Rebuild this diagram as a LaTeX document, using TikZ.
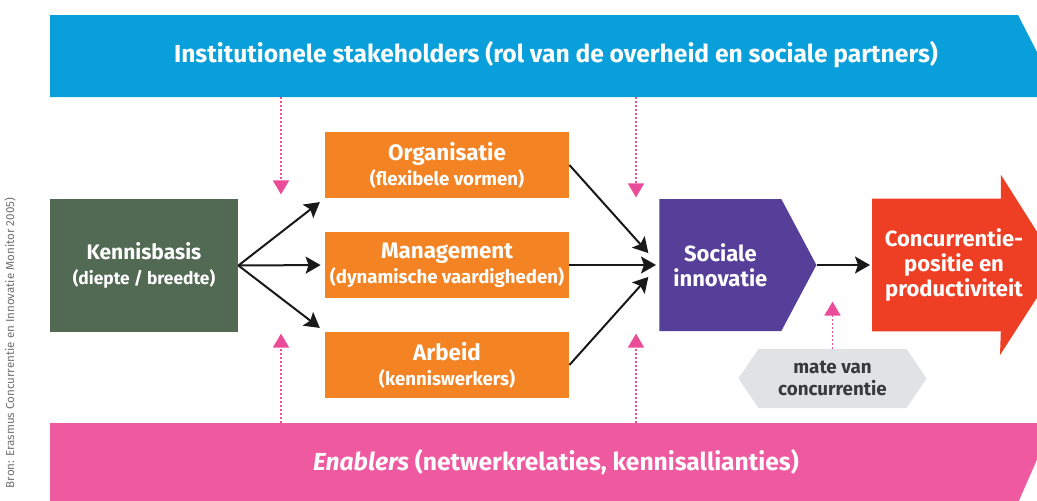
\documentclass[tikz,border=0pt]{standalone}
\usepackage{fontspec}
\setmainfont{Fira Sans}
\usetikzlibrary{arrows.meta,positioning,shapes.symbols}

\definecolor{instblue}{HTML}{089FDB}
\definecolor{enablepink}{HTML}{EE599F}
\definecolor{hintpink}{HTML}{EA4C9A}
\definecolor{basisgreen}{HTML}{526A54}
\definecolor{factororange}{HTML}{F38323}
\definecolor{socpurple}{HTML}{563F98}
\definecolor{comprred}{HTML}{EE3F24}
\definecolor{mategray}{HTML}{E1E2E3}
\definecolor{matetext}{HTML}{3A3A3A}
\definecolor{sourcegray}{HTML}{707070}

\newcommand{\factortitle}[1]{{\fontsize{11.2}{12.5}\selectfont #1}}

\begin{document}
\begin{tikzpicture}[
    x=0.5pt, y=-0.5pt,
    node distance=50pt,
    band/.style={text=white, font=\bfseries\fontsize{12.3}{14}\selectfont},
    factor/.style={rectangle, fill=factororange, text=white, minimum width=122pt, minimum height=33pt, inner sep=0pt, align=center, font=\bfseries\fontsize{9.3}{12.5}\selectfont},
    basis/.style={rectangle, fill=basisgreen, text=white, minimum width=94pt, minimum height=66.5pt, inner sep=0pt, align=center, font=\bfseries\fontsize{8.7}{12.5}\selectfont},
    social/.style={signal, signal to=east, signal pointer angle=124, fill=socpurple, text=white, minimum width=78.5pt, minimum height=66pt, inner sep=0pt, align=center, font=\bfseries\fontsize{11}{12.5}\selectfont},
    measure/.style={signal, signal to=west and east, signal pointer angle=112, fill=mategray, text=matetext, minimum width=94pt, minimum height=29.5pt, inner sep=0pt, align=center, font=\bfseries\fontsize{9.4}{11}\selectfont},
    arrow/.style={-{Stealth[length=7.5pt,width=8.5pt,inset=1.5pt]}, line width=1pt, draw=black!90},
    hint/.style={-{Triangle[length=7pt,width=8pt]}, draw=hintpink, line width=0.9pt, dash pattern=on 0.9pt off 1.1pt}
]
\useasboundingbox (0,0) rectangle (1037,500);
\clip (0,0) rectangle (1037,500);

% Bands
\fill[instblue] (50,15) -- (1018,15) -- (1060,97) -- (50,97) -- cycle;
\fill[enablepink] (50,423) -- (1053,423) -- (1017,505) -- (50,505) -- cycle;
\node[band] (inst) at (556,55) {Institutionele stakeholders (rol van de overheid en sociale partners)};
\node[band] (enab) at (556,462) {\textit{Enablers} (netwerkrelaties, kennisallianties)};

% Source
\node[rotate=90, text=sourcegray, font=\fontsize{5.8}{7}\selectfont] (bron) at (10,343) {Bron: Erasmus Concurrentie en Innovatie Monitor 2005)};

% Main chain
\node[basis] (kb) at (144,265.5) {{\fontsize{10.5}{12.5}\selectfont Kennisbasis}\\(diepte / breedte)};
\node[factor] (mgmt) at (447,265) {\factortitle{Management}\\(dynamische vaardigheden)};
\node[factor, above of=mgmt] (org) {\factortitle{Organisatie}\\(flexibele vormen)};
\node[factor, below of=mgmt] (arb) {\factortitle{Arbeid}\\(kenniswerkers)};
\node[social, anchor=west] (soc) at (659,265) {Sociale\\innovatie};
\node[measure, anchor=west] (mate) at (738,378.5) {mate van\\concurrentie};

% Result arrow
\node[minimum width=64pt, minimum height=66pt, inner sep=0pt, anchor=west] (comp) at (872,265) {};
\fill[comprred] (comp.north west) -- (comp.north east) -- ++(0,-24) -- (1058,265) -- (1000,355)
    -- (comp.south east) -- (comp.south west) -- cycle;
\node[text=white, align=center, font=\bfseries\fontsize{11}{12.5}\selectfont] (comptext) at (954,265) {Concurrentie-\\positie en\\productiviteit};

% Arrows
\draw[arrow, shorten >=3pt] (kb.east) -- (org.south west);
\draw[arrow, shorten >=2pt] (kb.east) -- (mgmt.west);
\draw[arrow, shorten >=3pt] (kb.east) -- (arb.north west);
\draw[arrow, shorten >=8pt] (org.east) -- (soc.west);
\draw[arrow, shorten >=1.5pt] (mgmt.east) -- (soc.west);
\draw[arrow, shorten >=8pt] (arb.east) -- (soc.west);
\draw[arrow, shorten >=1pt] (soc.east) -- (comp.west);

% Influences
\coordinate (top1) at (281,97);
\coordinate (top2) at (636,97);
\coordinate (bot1) at (281,423);
\coordinate (bot2) at (636,423);
\draw[hint, shorten >=2pt] (top1) -- (top1 |- org.south);
\draw[hint, shorten >=0.5pt] (top2) -- (top2 |- org.south);
\draw[hint, shorten >=1pt] (bot1) -- (bot1 |- arb.north);
\draw[hint, shorten >=1pt] (bot2) -- (bot2 |- arb.north);
\draw[hint] (mate.north) -- ++(0,-47);

\end{tikzpicture}
\end{document}
